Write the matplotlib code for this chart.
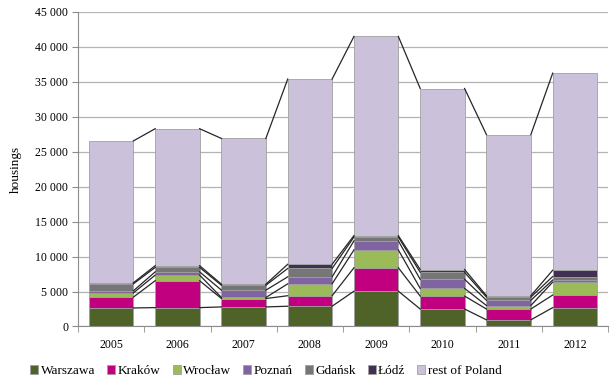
import numpy as np
import matplotlib
matplotlib.use("Agg")
import matplotlib.pyplot as plt
from matplotlib.ticker import FuncFormatter, MultipleLocator

years = ["2005", "2006", "2007", "2008", "2009", "2010", "2011", "2012"]
series_names = ["Warszawa", "Kraków", "Wrocław", "Poznań", "Gdańsk", "Łódź", "rest of Poland"]
warszawa = [2650, 2700, 2800, 2900, 5050, 2500, 950, 2700]
krakow = [1550, 3850, 1200, 1500, 3350, 1850, 1550, 1800]
wroclaw = [600, 800, 150, 1700, 2550, 1100, 500, 1850]
poznan = [300, 470, 1050, 1000, 1300, 1300, 750, 300]
gdansk = [1000, 630, 700, 1200, 550, 1000, 450, 500]
lodz = [150, 250, 150, 600, 200, 400, 200, 900]
rest = [20300, 19600, 20850, 26500, 28500, 25900, 23050, 28200]
colors = ["#4f6228", "#c0007f", "#9bbb59", "#8064a2", "#767676", "#403152", "#ccc1da"]

plt.rcParams["font.family"] = ["Liberation Serif", "DejaVu Serif"]

data = np.array([warszawa, krakow, wroclaw, poznan, gdansk, lodz, rest], dtype=float)
x = np.arange(len(years))
width = 0.67

fig = plt.figure(figsize=(6.12, 3.89), dpi=100)
ax = fig.add_axes([0.1275, 0.1607, 0.866, 0.8085])

ax.yaxis.grid(True, color="#b3b3b3", lw=0.9)
ax.set_axisbelow(True)

bottom = np.zeros(len(years))
handles = []
for vals, name, col in zip(data, series_names, colors):
    b = ax.bar(x, vals, width, bottom=bottom, color=col, label=name,
               edgecolor="#a0a0a0", linewidth=0.6, zorder=2)
    handles.append(b)
    top = bottom + vals
    # series lines joining the tops of neighbouring bars
    for i in range(len(years) - 1):
        ax.plot([x[i] + width / 2, x[i + 1] - width / 2], [top[i], top[i + 1]],
                color="#262626", lw=0.9, zorder=3)
    bottom = top

ax.set_xlim(-0.5, len(years) - 0.5)
ax.set_ylim(0, 45000)
ax.yaxis.set_major_locator(MultipleLocator(5000))
ax.yaxis.set_major_formatter(FuncFormatter(lambda v, p: f"{int(v):,}".replace(",", " ")))
ax.set_xticks(x)
ax.set_xticklabels(years)
ax.set_xticks(np.arange(-0.5, len(years)), minor=True)
ax.tick_params(axis="x", which="major", length=0, pad=9, labelsize=8.5)
ax.tick_params(axis="x", which="minor", length=4, color="#8c8c8c", direction="out")
ax.tick_params(axis="y", length=4, color="#8c8c8c", labelsize=8.5, pad=3)

for s in ["top", "right"]:
    ax.spines[s].set_visible(False)
for s in ["left", "bottom"]:
    ax.spines[s].set_color("#8c8c8c")

ax.set_ylabel("housings", fontsize=9.5)
ax.yaxis.set_label_coords(-0.105, 0.5)

fig.legend(handles=handles, labels=series_names, loc="center",
           bbox_to_anchor=(266 / 612, 1 - 371 / 389), ncol=7, frameon=False,
           fontsize=9.5, handlelength=0.6, handleheight=0.6, handletextpad=0.2,
           columnspacing=0.9)

fig.savefig("out.png", dpi=100)
